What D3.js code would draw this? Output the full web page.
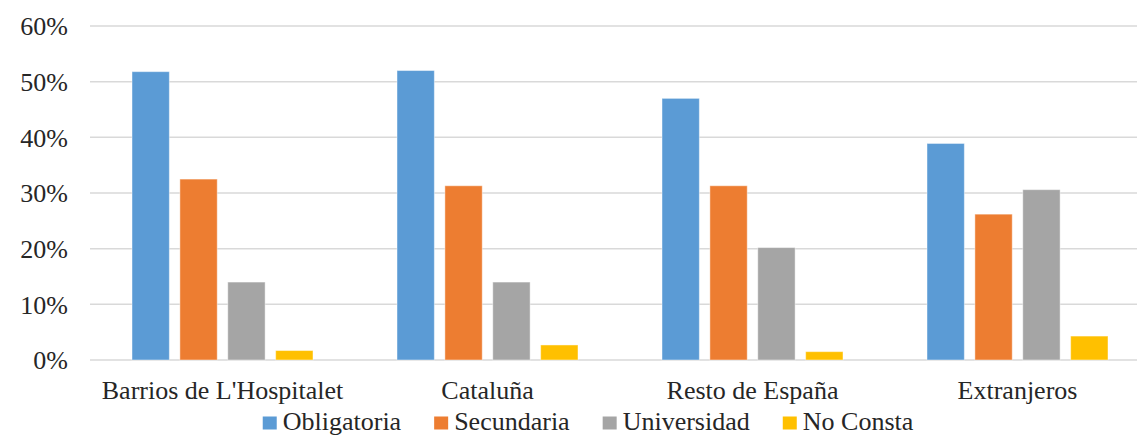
<!DOCTYPE html>
<html>
<head>
<meta charset="utf-8">
<script src="https://cdn.jsdelivr.net/npm/d3@7"></script>
<style>
  html, body { margin: 0; padding: 0; background: #fff; }
  svg { display: block; }
  text { font-family: "Liberation Serif", "Times New Roman", serif; fill: #262626; }
</style>
</head>
<body>
<svg id="chart" width="1137" height="436"></svg>
<script>
const categories = ["Barrios de L'Hospitalet", "Cataluña", "Resto de España", "Extranjeros"];
const seriesNames = ["Obligatoria", "Secundaria", "Universidad", "No Consta"];
const obligatoria = [51.8, 52.0, 47.0, 38.9];
const secundaria  = [32.5, 31.3, 31.3, 26.2];
const universidad = [14.0, 14.0, 20.2, 30.6];
const noConsta    = [1.7, 2.7, 1.5, 4.3];
const yTicks = [0, 10, 20, 30, 40, 50, 60];
const colors = ["#5B9BD5", "#ED7D31", "#A5A5A5", "#FFC000"];

const seriesValues = [obligatoria, secundaria, universidad, noConsta];
const svg = d3.select("#chart");

const plotLeft = 90, plotRight = 1150, plotTop = 26, plotBottom = 360;

const y = d3.scaleLinear().domain([0, 60]).range([plotBottom, plotTop]);
const x0 = d3.scaleBand().domain(categories).range([plotLeft, plotRight]).padding(0);
const x1 = d3.scaleBand().domain(seriesNames).range([42, 223]).paddingInner(0.22);
const color = d3.scaleOrdinal().domain(seriesNames).range(colors);

// gridlines
svg.append("g").selectAll("line").data(yTicks).join("line")
  .attr("x1", plotLeft).attr("x2", plotRight)
  .attr("y1", d => y(d)).attr("y2", d => y(d))
  .attr("stroke", "#d9d9d9").attr("stroke-width", 1.5);

// y axis labels
const yAxis = d3.axisLeft(y).tickValues(yTicks).tickFormat(d => d + "%").tickSize(0).tickPadding(0);
const yg = svg.append("g").attr("transform", `translate(68,0)`).call(yAxis);
yg.select(".domain").remove();
yg.selectAll("text").style("font-family", '"Liberation Serif", serif').style("font-size", "26px").attr("fill", "#262626").attr("dy", "0.34em");

// bars
const groups = svg.append("g").selectAll("g").data(categories).join("g")
  .attr("transform", d => `translate(${x0(d)},0)`);
groups.selectAll("rect").data((c, ci) => seriesNames.map((s, si) => ({ s, v: seriesValues[si][ci] })))
  .join("rect")
  .attr("x", d => x1(d.s))
  .attr("width", x1.bandwidth())
  .attr("y", d => y(d.v))
  .attr("height", d => y(0) - y(d.v))
  .attr("fill", d => color(d.s))
  .attr("stroke", "#ffffff").attr("stroke-opacity", 0.45).attr("stroke-width", 1);

// x axis labels
const xAxis = d3.axisBottom(x0).tickSize(0).tickPadding(0);
const xg = svg.append("g").attr("transform", `translate(0,${plotBottom})`).call(xAxis);
xg.select(".domain").remove();
xg.selectAll("text").style("font-family", '"Liberation Serif", serif').style("font-size", "26px").attr("fill", "#262626").attr("dy", null).attr("y", 39);

// legend
const legend = svg.append("g");
const items = legend.selectAll("g").data(seriesNames).join("g");
items.append("rect").attr("width", 14).attr("height", 13).attr("y", 416.5).attr("fill", d => color(d));
items.append("text").text(d => d).attr("x", 20).attr("y", 430).style("font-size", "26px");
let widths = [];
items.each(function() { widths.push(this.querySelector("text").getComputedTextLength() + 20); });
const gap = 33;
const total = d3.sum(widths) + gap * (widths.length - 1);
let cx = 588 - total / 2;
items.each(function(d, i) {
  d3.select(this).attr("transform", `translate(${cx},0)`);
  cx += widths[i] + gap;
});
</script>
</body>
</html>
